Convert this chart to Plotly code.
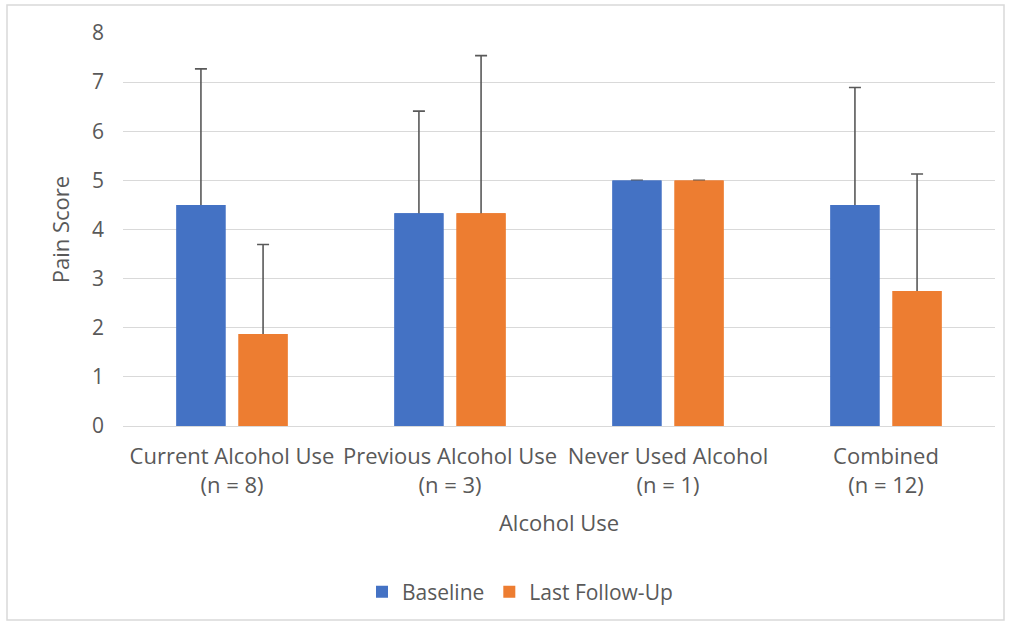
import plotly.graph_objects as go

categories = ["Current Alcohol Use<br>(n = 8)", "Previous Alcohol Use<br>(n = 3)",
              "Never Used Alcohol<br>(n = 1)", "Combined<br>(n = 12)"]
baseline = [4.5, 4.33, 5.0, 4.5]
baseline_sd = [2.77, 2.08, 0.0, 2.39]
followup = [1.875, 4.33, 5.0, 2.75]
followup_sd = [1.82, 3.21, 0.0, 2.38]
y_ticks = [0, 1, 2, 3, 4, 5, 6, 7, 8]

FONT = "Open Sans"
TXT = "#595959"
ERR = "#595959"
BLUE, ORANGE = "#4472C4", "#ED7D31"

fig = go.Figure()
series = [("Baseline", baseline, baseline_sd, BLUE, "b"),
          ("Last Follow-Up", followup, followup_sd, ORANGE, "f")]
# bars carrying the (upper) error bars; the lower whisker is hidden under a cover bar
for name, vals, sd, col, grp in series:
    fig.add_trace(go.Bar(
        name=name, x=categories, y=vals, marker=dict(color=col, line=dict(width=0)),
        offsetgroup=grp, showlegend=True, legendgroup=grp,
        error_y=dict(type="data", symmetric=False, array=sd,
                     arrayminus=[v * 0.5 for v in vals], color=ERR, thickness=1.6, width=6)))
for name, vals, sd, col, grp in series:
    fig.add_trace(go.Bar(
        name=name, x=categories, y=vals, marker=dict(color=col, line=dict(width=0)),
        offsetgroup=grp, showlegend=False, legendgroup=grp, hoverinfo="skip"))

L, R, T, B = 123, 18, 33, 200
W, H = 1013, 626
pw, ph = W - L - R, H - T - B

fig.update_layout(
    width=W, height=H,
    margin=dict(l=L, r=R, t=T, b=B),
    paper_bgcolor="white", plot_bgcolor="white",
    barmode="group", bargap=0.43, bargroupgap=0.21,
    font=dict(family=FONT, color=TXT, size=21),
    legend=dict(orientation="h", x=(520 - L) / pw, xanchor="center",
                y=(T + ph - 592) / ph, yanchor="middle",
                font=dict(size=21, color=TXT), traceorder="normal",
                itemwidth=30),
    xaxis=dict(showgrid=False, showline=True, linecolor="#d9d9d9", linewidth=1,
               ticks="", tickfont=dict(size=22, color=TXT), ticklabelstandoff=11,
               title=dict(text="Alcohol Use", font=dict(size=22, color=TXT), standoff=17)),
    yaxis=dict(range=[0, 8], tickvals=y_ticks, showgrid=True, gridcolor="#d9d9d9",
               gridwidth=1, zeroline=False, showline=False, ticks="",
               tickfont=dict(size=21, color=TXT), ticklabelstandoff=18,
               title=dict(text="Pain Score", font=dict(size=22, color=TXT), standoff=16)),
    shapes=[dict(type="rect", xref="paper", yref="paper",
                 x0=(7 - L) / pw, x1=(1004 - L) / pw,
                 y0=(T + ph - 620) / ph, y1=(T + ph - 5) / ph,
                 line=dict(color="#d9d9d9", width=1.5), fillcolor="rgba(0,0,0,0)", layer="below")],
)

fig.write_html("out.html", config={"displayModeBar": False},
               post_script="document.body.style.margin='0px';")
